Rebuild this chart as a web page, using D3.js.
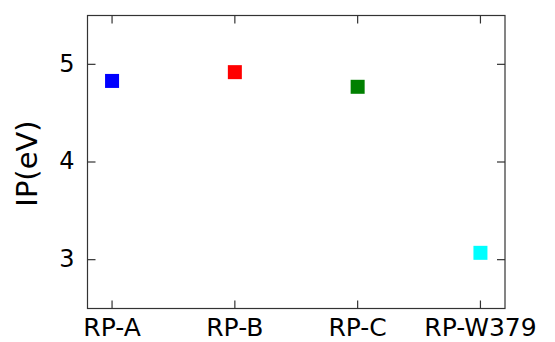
<!DOCTYPE html>
<html>
<head>
<meta charset="utf-8">
<script src="https://cdn.jsdelivr.net/npm/d3@7"></script>
<style>
  body { margin: 0; background: #fff; }
  svg text { font-family: "DejaVu Sans", sans-serif; fill: #000; }
</style>
</head>
<body>
<svg id="chart" width="555" height="342"></svg>
<script>
const categories = ["RP-A", "RP-B", "RP-C", "RP-W379"];
const ipValues = [4.83, 4.92, 4.77, 3.07];
const colors = ["#0000ff", "#ff0000", "#008000", "#00ffff"];
const yTicks = [3, 4, 5];

const svg = d3.select("#chart");
const margin = { top: 15.5, right: 50, bottom: 33.5, left: 87.5 };
const width = 555 - margin.left - margin.right;
const height = 342 - margin.top - margin.bottom;

const g = svg.append("g").attr("transform", `translate(${margin.left},${margin.top})`);

const x = d3.scaleLinear().domain([-0.2, 3.2]).range([0, width]);
const y = d3.scaleLinear().domain([2.5, 5.5]).range([height, 0]);

const tickLen = 8;
const axisColor = "#333";

// frame
g.append("rect")
  .attr("width", width)
  .attr("height", height)
  .attr("fill", "none")
  .attr("stroke", axisColor)
  .attr("stroke-width", 1.2);

// y ticks, mirrored
yTicks.forEach(t => {
  g.append("line").attr("x1", 0).attr("x2", tickLen)
    .attr("y1", y(t)).attr("y2", y(t)).attr("stroke", axisColor).attr("stroke-width", 1.2);
  g.append("line").attr("x1", width).attr("x2", width - tickLen)
    .attr("y1", y(t)).attr("y2", y(t)).attr("stroke", axisColor).attr("stroke-width", 1.2);
  g.append("text")
    .attr("x", -13)
    .attr("y", y(t))
    .attr("dy", "0.3em")
    .attr("text-anchor", "end")
    .style("font-size", "24px")
    .text(t);
});

// x ticks, mirrored
categories.forEach((c, i) => {
  g.append("line").attr("x1", x(i)).attr("x2", x(i))
    .attr("y1", height).attr("y2", height - tickLen).attr("stroke", axisColor).attr("stroke-width", 1.2);
  g.append("line").attr("x1", x(i)).attr("x2", x(i))
    .attr("y1", 0).attr("y2", tickLen).attr("stroke", axisColor).attr("stroke-width", 1.2);
  g.append("text")
    .attr("x", x(i))
    .attr("y", height + 27.5)
    .attr("text-anchor", "middle")
    .style("font-size", "25px")
    .text(c);
});

// markers
const size = 14;
g.selectAll("rect.pt")
  .data(ipValues)
  .enter()
  .append("rect")
  .attr("class", "pt")
  .attr("x", (d, i) => x(i) - size / 2)
  .attr("y", d => y(d) - size / 2)
  .attr("width", size)
  .attr("height", size)
  .attr("fill", (d, i) => colors[i]);

// y label
svg.append("text")
  .attr("transform", "translate(37,163.5) rotate(-90)")
  .attr("text-anchor", "middle")
  .style("font-size", "29px")
  .text("IP(eV)");
</script>
</body>
</html>
